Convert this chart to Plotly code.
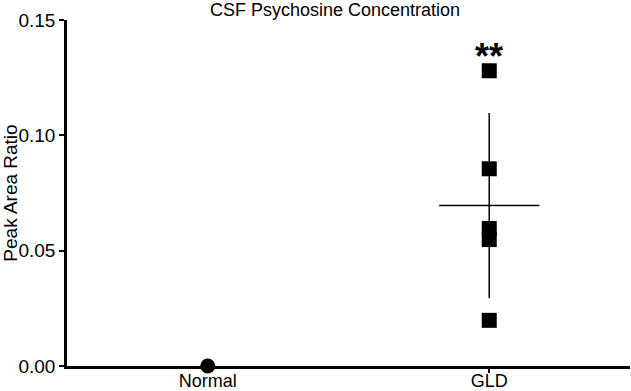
import numpy as np
import plotly.graph_objects as go

# ---- data ----
categories = ["Normal", "GLD"]
normal_values = [0.0]
gld_values = [0.128, 0.0855, 0.0596, 0.0548, 0.0198]
y_tick_vals = [0.0, 0.05, 0.10, 0.15]
y_tick_text = ["0.00", "0.05", "0.10", "0.15"]
title_text = "CSF Psychosine Concentration"
y_label = "Peak Area Ratio"
significance = "**"

FONT = "Liberation Sans, Arial, Helvetica, sans-serif"
W, H = 631, 391
ML, MR, MT, MB = 67, 1, 20, 25

gld_mean = float(np.mean(gld_values))
gld_sd = float(np.std(gld_values, ddof=1))
half_w = 0.178

fig = go.Figure()

# SD error bar (vertical line) at GLD mean
fig.add_trace(go.Scatter(
    x=[1], y=[gld_mean], mode="markers",
    marker=dict(size=1, color="rgba(0,0,0,0)"),
    error_y=dict(type="data", array=[gld_sd], visible=True,
                 color="black", thickness=1.5, width=0),
    showlegend=False, hoverinfo="skip", cliponaxis=False,
))
# mean horizontal line
fig.add_trace(go.Scatter(
    x=[1 - half_w, 1 + half_w], y=[gld_mean, gld_mean], mode="lines",
    line=dict(color="black", width=1.5),
    showlegend=False, hoverinfo="skip",
))
# Normal points
fig.add_trace(go.Scatter(
    x=[0] * len(normal_values), y=normal_values, mode="markers",
    marker=dict(symbol="circle", size=15, color="black"),
    showlegend=False, cliponaxis=False,
))
# GLD points
fig.add_trace(go.Scatter(
    x=[1] * len(gld_values), y=gld_values, mode="markers",
    marker=dict(symbol="square", size=15, color="black"),
    showlegend=False, cliponaxis=False,
))

plot_w = W - ML - MR
plot_h = H - MT - MB

fig.add_annotation(
    x=1, y=max(gld_values), xref="x", yref="y",
    text="<b>" + significance + "</b>", showarrow=False,
    yanchor="bottom", yshift=-8,
    font=dict(family=FONT, size=36, color="black"),
)
fig.add_annotation(
    x=(335 - ML) / plot_w, y=(H - MB - 10.5) / plot_h, xref="paper", yref="paper",
    text=title_text, showarrow=False, xanchor="center", yanchor="middle",
    font=dict(family=FONT, size=18, color="black"),
)

fig.update_layout(
    width=W, height=H,
    margin=dict(l=ML, r=MR, t=MT, b=MB),
    paper_bgcolor="white", plot_bgcolor="white",
    font=dict(family=FONT, size=18, color="black"),
)

fig.update_xaxes(
    range=[-0.5, 1.5], tickvals=[0, 1], ticktext=categories,
    showline=True, linecolor="black", linewidth=2.5,
    ticks="outside", ticklen=4, tickwidth=2, tickcolor="black",
    showgrid=False, zeroline=False, automargin=False,
    ticklabelstandoff=-7,
    tickfont=dict(family=FONT, size=18, color="black"),
)
fig.update_yaxes(
    range=[0, 0.15], tickvals=y_tick_vals, ticktext=y_tick_text,
    showline=True, linecolor="black", linewidth=2.5,
    ticks="outside", ticklen=5, tickwidth=2, tickcolor="black",
    showgrid=False, zeroline=False, automargin=False,
    tickfont=dict(family=FONT, size=19, color="black"),
    title=dict(text=y_label, font=dict(family=FONT, size=19, color="black"), standoff=6),
)

fig.write_html("out.html", config={"displayModeBar": False},
               post_script="document.body.style.margin='0px';")
